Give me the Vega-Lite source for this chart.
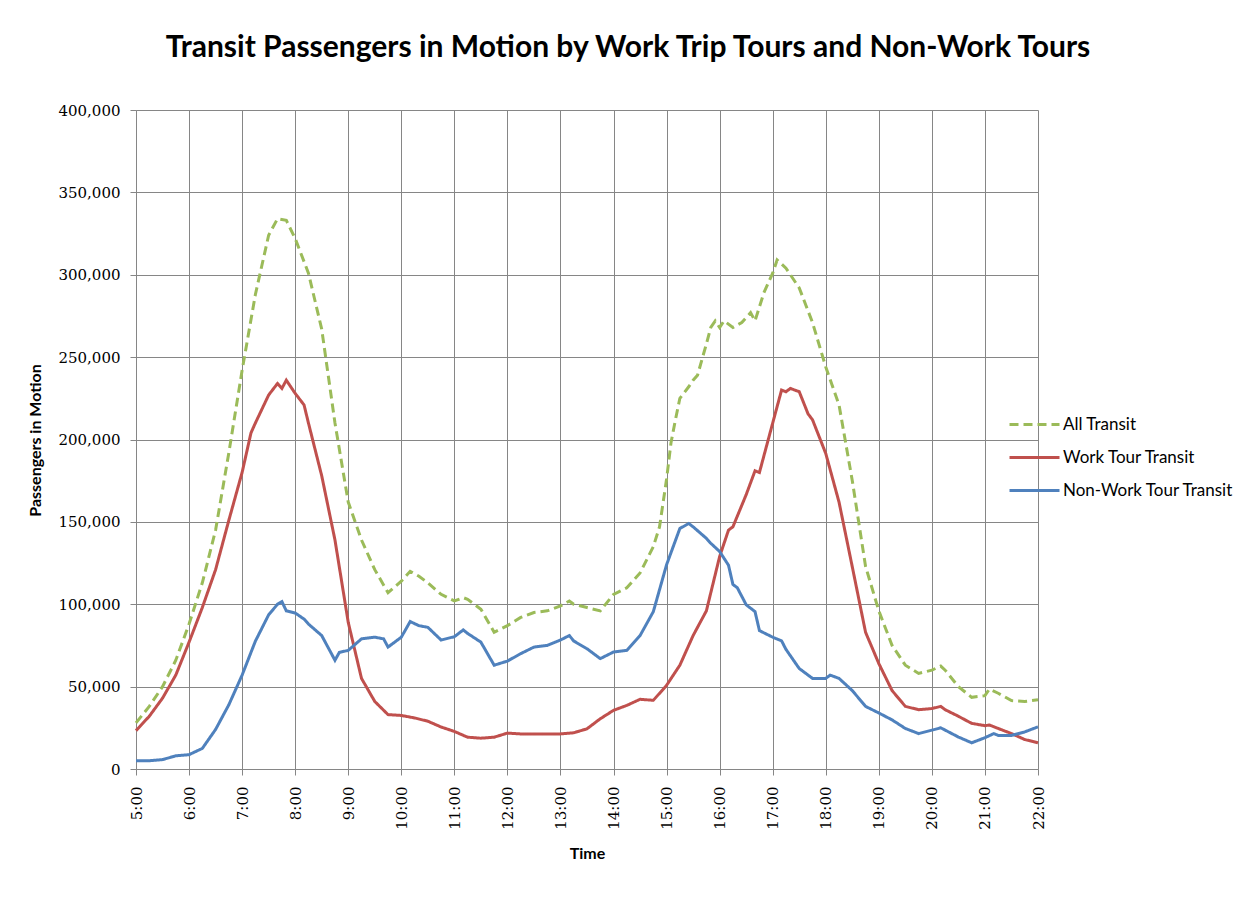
{
  "$schema": "https://vega.github.io/schema/vega-lite/v6.json",
  "width": 902,
  "height": 659,
  "autosize": {"type": "none"},
  "padding": {"left": 136, "top": 110, "right": 203, "bottom": 136},
  "background": "white",
  "title": {
    "text": "Transit Passengers in Motion by Work Trip Tours and Non-Work Tours",
    "font": "Lato",
    "fontSize": 30,
    "fontWeight": "bold",
    "color": "#000000",
    "anchor": "middle",
    "frame": "group",
    "dx": 41,
    "offset": 40
  },
  "datasets": {
    "transit": [
      {"hour": 5.0, "series": "All Transit", "passengers": 28000},
      {"hour": 5.25, "series": "All Transit", "passengers": 38000},
      {"hour": 5.5, "series": "All Transit", "passengers": 50000},
      {"hour": 5.75, "series": "All Transit", "passengers": 66000},
      {"hour": 6.0, "series": "All Transit", "passengers": 88000},
      {"hour": 6.25, "series": "All Transit", "passengers": 113000},
      {"hour": 6.5, "series": "All Transit", "passengers": 145000},
      {"hour": 6.75, "series": "All Transit", "passengers": 192000},
      {"hour": 7.0, "series": "All Transit", "passengers": 242000},
      {"hour": 7.25, "series": "All Transit", "passengers": 288000},
      {"hour": 7.5, "series": "All Transit", "passengers": 324000},
      {"hour": 7.667, "series": "All Transit", "passengers": 334000},
      {"hour": 7.833, "series": "All Transit", "passengers": 333000},
      {"hour": 8.0, "series": "All Transit", "passengers": 322000},
      {"hour": 8.25, "series": "All Transit", "passengers": 301000},
      {"hour": 8.5, "series": "All Transit", "passengers": 267000},
      {"hour": 8.75, "series": "All Transit", "passengers": 210000},
      {"hour": 9.0, "series": "All Transit", "passengers": 162000},
      {"hour": 9.25, "series": "All Transit", "passengers": 139000},
      {"hour": 9.5, "series": "All Transit", "passengers": 121000},
      {"hour": 9.75, "series": "All Transit", "passengers": 107000},
      {"hour": 10.0, "series": "All Transit", "passengers": 114000},
      {"hour": 10.167, "series": "All Transit", "passengers": 120000},
      {"hour": 10.333, "series": "All Transit", "passengers": 117000},
      {"hour": 10.5, "series": "All Transit", "passengers": 113000},
      {"hour": 10.75, "series": "All Transit", "passengers": 106000},
      {"hour": 11.0, "series": "All Transit", "passengers": 102000},
      {"hour": 11.167, "series": "All Transit", "passengers": 104000},
      {"hour": 11.25, "series": "All Transit", "passengers": 103000},
      {"hour": 11.5, "series": "All Transit", "passengers": 97000},
      {"hour": 11.75, "series": "All Transit", "passengers": 83000},
      {"hour": 12.0, "series": "All Transit", "passengers": 87000},
      {"hour": 12.25, "series": "All Transit", "passengers": 92000},
      {"hour": 12.5, "series": "All Transit", "passengers": 95000},
      {"hour": 12.75, "series": "All Transit", "passengers": 96000},
      {"hour": 13.0, "series": "All Transit", "passengers": 99000},
      {"hour": 13.167, "series": "All Transit", "passengers": 102000},
      {"hour": 13.25, "series": "All Transit", "passengers": 100000},
      {"hour": 13.5, "series": "All Transit", "passengers": 98000},
      {"hour": 13.75, "series": "All Transit", "passengers": 96000},
      {"hour": 14.0, "series": "All Transit", "passengers": 106000},
      {"hour": 14.25, "series": "All Transit", "passengers": 110000},
      {"hour": 14.5, "series": "All Transit", "passengers": 119000},
      {"hour": 14.75, "series": "All Transit", "passengers": 135000},
      {"hour": 14.867, "series": "All Transit", "passengers": 147000},
      {"hour": 15.0, "series": "All Transit", "passengers": 176000},
      {"hour": 15.083, "series": "All Transit", "passengers": 198000},
      {"hour": 15.167, "series": "All Transit", "passengers": 212000},
      {"hour": 15.25, "series": "All Transit", "passengers": 225000},
      {"hour": 15.417, "series": "All Transit", "passengers": 232000},
      {"hour": 15.5, "series": "All Transit", "passengers": 236000},
      {"hour": 15.583, "series": "All Transit", "passengers": 239000},
      {"hour": 15.75, "series": "All Transit", "passengers": 258000},
      {"hour": 15.833, "series": "All Transit", "passengers": 268000},
      {"hour": 15.917, "series": "All Transit", "passengers": 272000},
      {"hour": 16.0, "series": "All Transit", "passengers": 268000},
      {"hour": 16.083, "series": "All Transit", "passengers": 272000},
      {"hour": 16.25, "series": "All Transit", "passengers": 268000},
      {"hour": 16.417, "series": "All Transit", "passengers": 271000},
      {"hour": 16.583, "series": "All Transit", "passengers": 277000},
      {"hour": 16.667, "series": "All Transit", "passengers": 272000},
      {"hour": 16.833, "series": "All Transit", "passengers": 289000},
      {"hour": 17.0, "series": "All Transit", "passengers": 301000},
      {"hour": 17.083, "series": "All Transit", "passengers": 309000},
      {"hour": 17.25, "series": "All Transit", "passengers": 304000},
      {"hour": 17.5, "series": "All Transit", "passengers": 292000},
      {"hour": 17.75, "series": "All Transit", "passengers": 271000},
      {"hour": 18.0, "series": "All Transit", "passengers": 244000},
      {"hour": 18.25, "series": "All Transit", "passengers": 221000},
      {"hour": 18.5, "series": "All Transit", "passengers": 175000},
      {"hour": 18.75, "series": "All Transit", "passengers": 123000},
      {"hour": 19.0, "series": "All Transit", "passengers": 96000},
      {"hour": 19.25, "series": "All Transit", "passengers": 75000},
      {"hour": 19.5, "series": "All Transit", "passengers": 63000},
      {"hour": 19.75, "series": "All Transit", "passengers": 58000},
      {"hour": 20.0, "series": "All Transit", "passengers": 60000},
      {"hour": 20.167, "series": "All Transit", "passengers": 62500},
      {"hour": 20.25, "series": "All Transit", "passengers": 60000},
      {"hour": 20.5, "series": "All Transit", "passengers": 50000},
      {"hour": 20.75, "series": "All Transit", "passengers": 43500},
      {"hour": 21.0, "series": "All Transit", "passengers": 44500},
      {"hour": 21.083, "series": "All Transit", "passengers": 48500},
      {"hour": 21.25, "series": "All Transit", "passengers": 46000},
      {"hour": 21.5, "series": "All Transit", "passengers": 41500},
      {"hour": 21.75, "series": "All Transit", "passengers": 41000},
      {"hour": 22.0, "series": "All Transit", "passengers": 42000},

      {"hour": 5.0, "series": "Work Tour Transit", "passengers": 23300},
      {"hour": 5.25, "series": "Work Tour Transit", "passengers": 32000},
      {"hour": 5.5, "series": "Work Tour Transit", "passengers": 43000},
      {"hour": 5.75, "series": "Work Tour Transit", "passengers": 57000},
      {"hour": 6.0, "series": "Work Tour Transit", "passengers": 77000},
      {"hour": 6.25, "series": "Work Tour Transit", "passengers": 98000},
      {"hour": 6.5, "series": "Work Tour Transit", "passengers": 121000},
      {"hour": 6.75, "series": "Work Tour Transit", "passengers": 151000},
      {"hour": 7.0, "series": "Work Tour Transit", "passengers": 180000},
      {"hour": 7.167, "series": "Work Tour Transit", "passengers": 204000},
      {"hour": 7.25, "series": "Work Tour Transit", "passengers": 210000},
      {"hour": 7.5, "series": "Work Tour Transit", "passengers": 227000},
      {"hour": 7.667, "series": "Work Tour Transit", "passengers": 234000},
      {"hour": 7.75, "series": "Work Tour Transit", "passengers": 231000},
      {"hour": 7.833, "series": "Work Tour Transit", "passengers": 236000},
      {"hour": 8.0, "series": "Work Tour Transit", "passengers": 228000},
      {"hour": 8.167, "series": "Work Tour Transit", "passengers": 221000},
      {"hour": 8.25, "series": "Work Tour Transit", "passengers": 210000},
      {"hour": 8.5, "series": "Work Tour Transit", "passengers": 178000},
      {"hour": 8.75, "series": "Work Tour Transit", "passengers": 139000},
      {"hour": 9.0, "series": "Work Tour Transit", "passengers": 89000},
      {"hour": 9.25, "series": "Work Tour Transit", "passengers": 55000},
      {"hour": 9.5, "series": "Work Tour Transit", "passengers": 41000},
      {"hour": 9.75, "series": "Work Tour Transit", "passengers": 33000},
      {"hour": 10.0, "series": "Work Tour Transit", "passengers": 32500},
      {"hour": 10.25, "series": "Work Tour Transit", "passengers": 31000},
      {"hour": 10.5, "series": "Work Tour Transit", "passengers": 29000},
      {"hour": 10.75, "series": "Work Tour Transit", "passengers": 25500},
      {"hour": 11.0, "series": "Work Tour Transit", "passengers": 22800},
      {"hour": 11.25, "series": "Work Tour Transit", "passengers": 19300},
      {"hour": 11.5, "series": "Work Tour Transit", "passengers": 18700},
      {"hour": 11.75, "series": "Work Tour Transit", "passengers": 19300},
      {"hour": 12.0, "series": "Work Tour Transit", "passengers": 21800},
      {"hour": 12.25, "series": "Work Tour Transit", "passengers": 21300},
      {"hour": 12.5, "series": "Work Tour Transit", "passengers": 21300},
      {"hour": 12.75, "series": "Work Tour Transit", "passengers": 21300},
      {"hour": 13.0, "series": "Work Tour Transit", "passengers": 21300},
      {"hour": 13.25, "series": "Work Tour Transit", "passengers": 22000},
      {"hour": 13.5, "series": "Work Tour Transit", "passengers": 24400},
      {"hour": 13.75, "series": "Work Tour Transit", "passengers": 30500},
      {"hour": 14.0, "series": "Work Tour Transit", "passengers": 35600},
      {"hour": 14.25, "series": "Work Tour Transit", "passengers": 38600},
      {"hour": 14.5, "series": "Work Tour Transit", "passengers": 42300},
      {"hour": 14.75, "series": "Work Tour Transit", "passengers": 41700},
      {"hour": 15.0, "series": "Work Tour Transit", "passengers": 50800},
      {"hour": 15.25, "series": "Work Tour Transit", "passengers": 63000},
      {"hour": 15.5, "series": "Work Tour Transit", "passengers": 81000},
      {"hour": 15.75, "series": "Work Tour Transit", "passengers": 96000},
      {"hour": 16.0, "series": "Work Tour Transit", "passengers": 129000},
      {"hour": 16.167, "series": "Work Tour Transit", "passengers": 145000},
      {"hour": 16.25, "series": "Work Tour Transit", "passengers": 147000},
      {"hour": 16.5, "series": "Work Tour Transit", "passengers": 166500},
      {"hour": 16.667, "series": "Work Tour Transit", "passengers": 181000},
      {"hour": 16.75, "series": "Work Tour Transit", "passengers": 180000},
      {"hour": 17.0, "series": "Work Tour Transit", "passengers": 210000},
      {"hour": 17.167, "series": "Work Tour Transit", "passengers": 230000},
      {"hour": 17.25, "series": "Work Tour Transit", "passengers": 229000},
      {"hour": 17.333, "series": "Work Tour Transit", "passengers": 231000},
      {"hour": 17.5, "series": "Work Tour Transit", "passengers": 229000},
      {"hour": 17.667, "series": "Work Tour Transit", "passengers": 215500},
      {"hour": 17.75, "series": "Work Tour Transit", "passengers": 212000},
      {"hour": 18.0, "series": "Work Tour Transit", "passengers": 191500},
      {"hour": 18.25, "series": "Work Tour Transit", "passengers": 162000},
      {"hour": 18.5, "series": "Work Tour Transit", "passengers": 122700},
      {"hour": 18.75, "series": "Work Tour Transit", "passengers": 83000},
      {"hour": 19.0, "series": "Work Tour Transit", "passengers": 64000},
      {"hour": 19.25, "series": "Work Tour Transit", "passengers": 47600},
      {"hour": 19.5, "series": "Work Tour Transit", "passengers": 38000},
      {"hour": 19.75, "series": "Work Tour Transit", "passengers": 36000},
      {"hour": 20.0, "series": "Work Tour Transit", "passengers": 36700},
      {"hour": 20.167, "series": "Work Tour Transit", "passengers": 38000},
      {"hour": 20.25, "series": "Work Tour Transit", "passengers": 36000},
      {"hour": 20.5, "series": "Work Tour Transit", "passengers": 32000},
      {"hour": 20.75, "series": "Work Tour Transit", "passengers": 27700},
      {"hour": 21.0, "series": "Work Tour Transit", "passengers": 26300},
      {"hour": 21.083, "series": "Work Tour Transit", "passengers": 26700},
      {"hour": 21.25, "series": "Work Tour Transit", "passengers": 24600},
      {"hour": 21.5, "series": "Work Tour Transit", "passengers": 21500},
      {"hour": 21.75, "series": "Work Tour Transit", "passengers": 17900},
      {"hour": 22.0, "series": "Work Tour Transit", "passengers": 15900},

      {"hour": 5.0, "series": "Non-Work Tour Transit", "passengers": 5000},
      {"hour": 5.25, "series": "Non-Work Tour Transit", "passengers": 5000},
      {"hour": 5.5, "series": "Non-Work Tour Transit", "passengers": 5700},
      {"hour": 5.75, "series": "Non-Work Tour Transit", "passengers": 8000},
      {"hour": 6.0, "series": "Non-Work Tour Transit", "passengers": 8700},
      {"hour": 6.25, "series": "Non-Work Tour Transit", "passengers": 12500},
      {"hour": 6.5, "series": "Non-Work Tour Transit", "passengers": 24000},
      {"hour": 6.75, "series": "Non-Work Tour Transit", "passengers": 39000},
      {"hour": 7.0, "series": "Non-Work Tour Transit", "passengers": 57000},
      {"hour": 7.25, "series": "Non-Work Tour Transit", "passengers": 77600},
      {"hour": 7.5, "series": "Non-Work Tour Transit", "passengers": 93600},
      {"hour": 7.667, "series": "Non-Work Tour Transit", "passengers": 100000},
      {"hour": 7.75, "series": "Non-Work Tour Transit", "passengers": 101600},
      {"hour": 7.833, "series": "Non-Work Tour Transit", "passengers": 96000},
      {"hour": 8.0, "series": "Non-Work Tour Transit", "passengers": 94700},
      {"hour": 8.167, "series": "Non-Work Tour Transit", "passengers": 91000},
      {"hour": 8.25, "series": "Non-Work Tour Transit", "passengers": 88000},
      {"hour": 8.5, "series": "Non-Work Tour Transit", "passengers": 81000},
      {"hour": 8.75, "series": "Non-Work Tour Transit", "passengers": 66000},
      {"hour": 8.833, "series": "Non-Work Tour Transit", "passengers": 70800},
      {"hour": 9.0, "series": "Non-Work Tour Transit", "passengers": 72000},
      {"hour": 9.25, "series": "Non-Work Tour Transit", "passengers": 79000},
      {"hour": 9.5, "series": "Non-Work Tour Transit", "passengers": 80000},
      {"hour": 9.667, "series": "Non-Work Tour Transit", "passengers": 79000},
      {"hour": 9.75, "series": "Non-Work Tour Transit", "passengers": 74000},
      {"hour": 10.0, "series": "Non-Work Tour Transit", "passengers": 80000},
      {"hour": 10.167, "series": "Non-Work Tour Transit", "passengers": 89500},
      {"hour": 10.333, "series": "Non-Work Tour Transit", "passengers": 87000},
      {"hour": 10.5, "series": "Non-Work Tour Transit", "passengers": 86000},
      {"hour": 10.75, "series": "Non-Work Tour Transit", "passengers": 78300},
      {"hour": 11.0, "series": "Non-Work Tour Transit", "passengers": 80300},
      {"hour": 11.167, "series": "Non-Work Tour Transit", "passengers": 84400},
      {"hour": 11.25, "series": "Non-Work Tour Transit", "passengers": 82300},
      {"hour": 11.5, "series": "Non-Work Tour Transit", "passengers": 77000},
      {"hour": 11.75, "series": "Non-Work Tour Transit", "passengers": 63000},
      {"hour": 12.0, "series": "Non-Work Tour Transit", "passengers": 65500},
      {"hour": 12.25, "series": "Non-Work Tour Transit", "passengers": 70000},
      {"hour": 12.5, "series": "Non-Work Tour Transit", "passengers": 74000},
      {"hour": 12.75, "series": "Non-Work Tour Transit", "passengers": 75000},
      {"hour": 13.0, "series": "Non-Work Tour Transit", "passengers": 78300},
      {"hour": 13.167, "series": "Non-Work Tour Transit", "passengers": 81000},
      {"hour": 13.25, "series": "Non-Work Tour Transit", "passengers": 77700},
      {"hour": 13.5, "series": "Non-Work Tour Transit", "passengers": 73000},
      {"hour": 13.75, "series": "Non-Work Tour Transit", "passengers": 67000},
      {"hour": 14.0, "series": "Non-Work Tour Transit", "passengers": 71000},
      {"hour": 14.25, "series": "Non-Work Tour Transit", "passengers": 72000},
      {"hour": 14.5, "series": "Non-Work Tour Transit", "passengers": 81000},
      {"hour": 14.75, "series": "Non-Work Tour Transit", "passengers": 95500},
      {"hour": 15.0, "series": "Non-Work Tour Transit", "passengers": 124000},
      {"hour": 15.25, "series": "Non-Work Tour Transit", "passengers": 146000},
      {"hour": 15.417, "series": "Non-Work Tour Transit", "passengers": 149000},
      {"hour": 15.5, "series": "Non-Work Tour Transit", "passengers": 147000},
      {"hour": 15.75, "series": "Non-Work Tour Transit", "passengers": 140000},
      {"hour": 15.833, "series": "Non-Work Tour Transit", "passengers": 137000},
      {"hour": 16.0, "series": "Non-Work Tour Transit", "passengers": 132000},
      {"hour": 16.167, "series": "Non-Work Tour Transit", "passengers": 123700},
      {"hour": 16.25, "series": "Non-Work Tour Transit", "passengers": 112000},
      {"hour": 16.333, "series": "Non-Work Tour Transit", "passengers": 110000},
      {"hour": 16.5, "series": "Non-Work Tour Transit", "passengers": 99700},
      {"hour": 16.667, "series": "Non-Work Tour Transit", "passengers": 95500},
      {"hour": 16.75, "series": "Non-Work Tour Transit", "passengers": 84000},
      {"hour": 17.0, "series": "Non-Work Tour Transit", "passengers": 80000},
      {"hour": 17.167, "series": "Non-Work Tour Transit", "passengers": 77800},
      {"hour": 17.25, "series": "Non-Work Tour Transit", "passengers": 72600},
      {"hour": 17.5, "series": "Non-Work Tour Transit", "passengers": 61000},
      {"hour": 17.75, "series": "Non-Work Tour Transit", "passengers": 55000},
      {"hour": 18.0, "series": "Non-Work Tour Transit", "passengers": 55000},
      {"hour": 18.083, "series": "Non-Work Tour Transit", "passengers": 57000},
      {"hour": 18.25, "series": "Non-Work Tour Transit", "passengers": 55000},
      {"hour": 18.5, "series": "Non-Work Tour Transit", "passengers": 47600},
      {"hour": 18.75, "series": "Non-Work Tour Transit", "passengers": 38000},
      {"hour": 19.0, "series": "Non-Work Tour Transit", "passengers": 34000},
      {"hour": 19.25, "series": "Non-Work Tour Transit", "passengers": 29800},
      {"hour": 19.5, "series": "Non-Work Tour Transit", "passengers": 24600},
      {"hour": 19.75, "series": "Non-Work Tour Transit", "passengers": 21500},
      {"hour": 20.0, "series": "Non-Work Tour Transit", "passengers": 23600},
      {"hour": 20.167, "series": "Non-Work Tour Transit", "passengers": 25000},
      {"hour": 20.25, "series": "Non-Work Tour Transit", "passengers": 23600},
      {"hour": 20.5, "series": "Non-Work Tour Transit", "passengers": 19400},
      {"hour": 20.75, "series": "Non-Work Tour Transit", "passengers": 15900},
      {"hour": 21.0, "series": "Non-Work Tour Transit", "passengers": 19000},
      {"hour": 21.167, "series": "Non-Work Tour Transit", "passengers": 21500},
      {"hour": 21.25, "series": "Non-Work Tour Transit", "passengers": 20400},
      {"hour": 21.5, "series": "Non-Work Tour Transit", "passengers": 20400},
      {"hour": 21.75, "series": "Non-Work Tour Transit", "passengers": 22500},
      {"hour": 22.0, "series": "Non-Work Tour Transit", "passengers": 25600}
    ]
  },
  "data": {"name": "transit"},
  "mark": {"type": "line", "strokeWidth": 3, "interpolate": "linear"},
  "encoding": {
    "x": {
      "field": "hour",
      "type": "quantitative",
      "scale": {"domain": [5, 22], "nice": false, "zero": false},
      "axis": {
        "values": [5, 6, 7, 8, 9, 10, 11, 12, 13, 14, 15, 16, 17, 18, 19, 20, 21, 22],
        "labelExpr": "datum.value + ':00'",
        "labelAngle": -90,
        "labelAlign": "right",
        "labelBaseline": "middle",
        "labelPadding": 11,
        "tickSize": 6,
        "title": "Time",
        "titleFontSize": 16,
        "titleY": 89,
        "titleBaseline": "alphabetic"
      }
    },
    "y": {
      "field": "passengers",
      "type": "quantitative",
      "scale": {"domain": [0, 400000], "nice": false},
      "axis": {
        "values": [0, 50000, 100000, 150000, 200000, 250000, 300000, 350000, 400000],
        "format": ",.0f",
        "tickSize": 6,
        "labelPadding": 10,
        "title": "Passengers in Motion",
        "titleFontSize": 16,
        "titleX": -101,
        "titleY": 330,
        "titleAnchor": "middle",
        "titleBaseline": "middle",
        "titleAngle": -90
      }
    },
    "color": {
      "field": "series",
      "type": "nominal",
      "scale": {
        "domain": ["All Transit", "Work Tour Transit", "Non-Work Tour Transit"],
        "range": ["#9BBB59", "#C0504D", "#4F81BD"]
      },
      "legend": {
        "orient": "none",
        "legendX": 887,
        "legendY": 303,
        "title": null,
        "padding": 0,
        "symbolType": "M-2.5,0H2.5",
        "symbolSize": 400,
        "symbolStrokeWidth": 3,
        "labelFont": "Lato",
        "labelFontSize": 17,
        "labelColor": "#000000",
        "labelLimit": 400,
        "labelOffset": 17,
        "rowPadding": 13
      }
    },
    "strokeDash": {
      "field": "series",
      "type": "nominal",
      "scale": {
        "domain": ["All Transit", "Work Tour Transit", "Non-Work Tour Transit"],
        "range": [[9, 5], [1, 0], [1, 0]]
      },
      "legend": {
        "orient": "none",
        "legendX": 887,
        "legendY": 303,
        "title": null,
        "padding": 0,
        "symbolType": "M-2.5,0H2.5",
        "symbolSize": 400,
        "symbolStrokeWidth": 3,
        "labelFont": "Lato",
        "labelFontSize": 17,
        "labelColor": "#000000",
        "labelLimit": 400,
        "labelOffset": 17,
        "rowPadding": 13
      }
    }
  },
  "config": {
    "view": {"stroke": null},
    "axis": {
      "grid": true,
      "gridColor": "#868686",
      "gridWidth": 1,
      "gridOpacity": 1,
      "domainColor": "#868686",
      "tickColor": "#868686",
      "labelFont": "DejaVu Serif",
      "labelFontSize": 15,
      "labelColor": "#000000",
      "titleFont": "Lato",
      "titleFontWeight": "bold",
      "titleColor": "#000000"
    }
  }
}
